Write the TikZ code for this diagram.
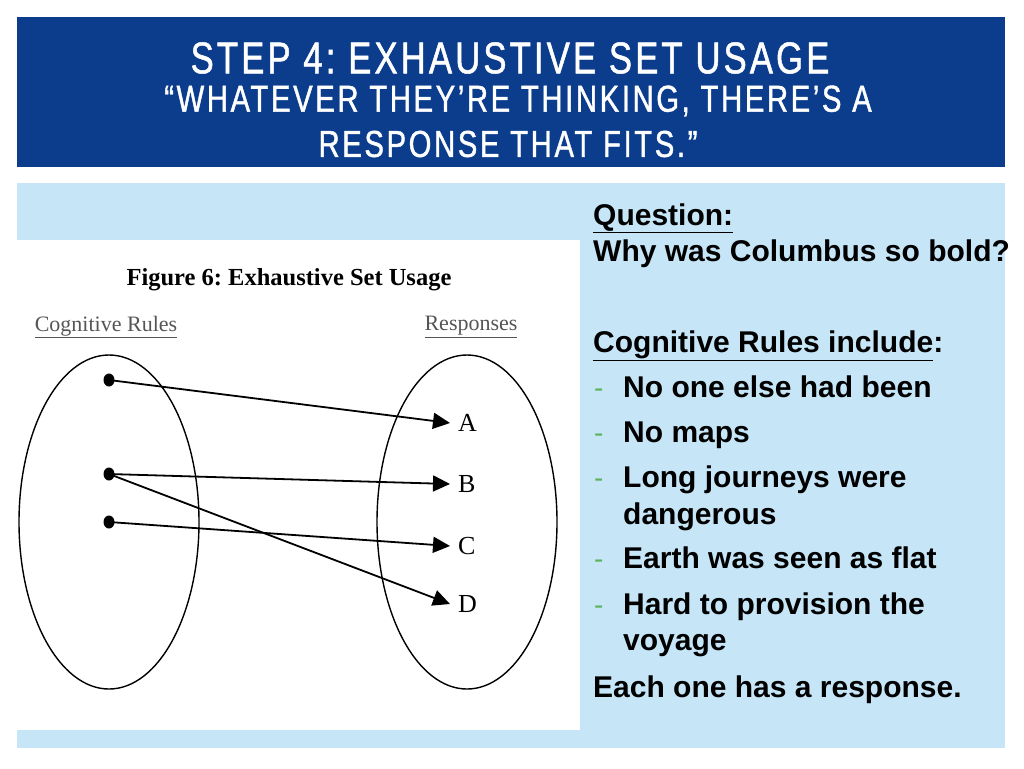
\documentclass[tikz,border=0pt]{standalone}
\usepackage{fontspec}
\setmainfont{Liberation Serif}
\newfontfamily\titlefont[FakeStretch=0.78,LetterSpace=7,FakeBold=1.1]{Liberation Sans}
\newfontfamily\bodyfont{Liberation Sans}
\usetikzlibrary{arrows.meta}
\definecolor{bandblue}{HTML}{0B3D8C}
\definecolor{paleblue}{HTML}{C6E6F8}
\definecolor{dashgreen}{HTML}{5DB35D}
\definecolor{rulegray}{HTML}{555555}
\frenchspacing
\tikzset{
  titleline/.style={text=white, inner sep=0pt},
  bodyline/.style={anchor=base west, inner sep=0pt, font=\bodyfont\bfseries\fontsize{30}{36}\selectfont},
  dashmark/.style={anchor=base west, inner sep=0pt, text=dashgreen, font=\bodyfont\fontsize{28}{36}\selectfont},
  ruledot/.style={ellipse, fill, inner sep=0pt, minimum width=11pt, minimum height=13pt},
  resp/.style={anchor=west, inner ysep=2pt, inner xsep=8pt, font=\fontsize{26}{30}\selectfont},
  setlabel/.style={text=rulegray, inner sep=0pt, font=\fontsize{22}{26}\selectfont},
  map/.style={line width=1.8pt, -{Triangle[length=17pt,width=16pt]}},
}
\usetikzlibrary{shapes.geometric}
\begin{document}
\begin{tikzpicture}[x=1pt, y=-1pt]
    \useasboundingbox (0,0) rectangle (1024,768);
    \fill[white] (0,0) rectangle (1024,768);

    % title band
    \fill[bandblue] (17,17) rectangle (1005,167);
    \node[titleline, font=\titlefont\fontsize{44.5}{48}\selectfont] (title1) at (510,58) {STEP 4: EXHAUSTIVE SET USAGE};
    \node[titleline, font=\titlefont\fontsize{37.5}{42}\selectfont] (title2) at (518,101) {“WHATEVER THEY’RE THINKING, THERE’S A};
    \node[titleline, font=\titlefont\fontsize{37.5}{42}\selectfont] (title3) at (508,144) {RESPONSE THAT FITS.”};

    % panels
    \fill[paleblue] (17,183) rectangle (1005,748);
    \fill[white] (17,240) rectangle (580,730);

    % figure
    \node[font=\bfseries\fontsize{24.5}{28}\selectfont] (figtitle) at (289,280) {Figure 6: Exhaustive Set Usage};
    \node[setlabel] (rules) at (106,327) {\underline{Cognitive Rules}};
    \node[setlabel] (resps) at (471,327) {\underline{Responses}};
    \draw[line width=1.4pt] (109,522) ellipse (90 and 167);
    \draw[line width=1.4pt] (467,522) ellipse (90 and 167);

    \node[ruledot] (r1) at (109,380) {};
    \node[ruledot] (r2) at (109,474) {};
    \node[ruledot] (r3) at (109,522) {};

    \node[resp] (ra) at (450,423) {A};
    \node[resp] (rb) at (450,484) {B};
    \node[resp] (rc) at (450,546) {C};
    \node[resp] (rd) at (450,604) {D};

    \draw[map] (r1.center) -- (ra.west);
    \draw[map] (r2.center) -- (rb.west);
    \draw[map] (r2.center) -- (rd.west);
    \draw[map] (r3.center) -- (rc.west);

    % question text
    \node[bodyline] (q1) at (593,225) {\underline{Question:}};
    \node[bodyline] (q2) at (593,261) {Why was Columbus so bold?};
    \node[bodyline] (c0) at (593,352) {\underline{Cognitive Rules include}:};
    \node[dashmark] (d1) at (594,397) {-};
    \node[bodyline] (c1) at (623,397) {No one else had been};
    \node[dashmark] (d2) at (594,442) {-};
    \node[bodyline] (c2) at (623,442) {No maps};
    \node[dashmark] (d3) at (594,487) {-};
    \node[bodyline] (c3) at (623,487) {Long journeys were};
    \node[bodyline] (c3b) at (623,524) {dangerous};
    \node[dashmark] (d4) at (594,568) {-};
    \node[bodyline] (c4) at (623,568) {Earth was seen as flat};
    \node[dashmark] (d5) at (594,614) {-};
    \node[bodyline] (c5) at (623,614) {Hard to provision the};
    \node[bodyline] (c5b) at (623,650) {voyage};
    \node[bodyline] (e1) at (593,697) {Each one has a response.};
\end{tikzpicture}
\end{document}
